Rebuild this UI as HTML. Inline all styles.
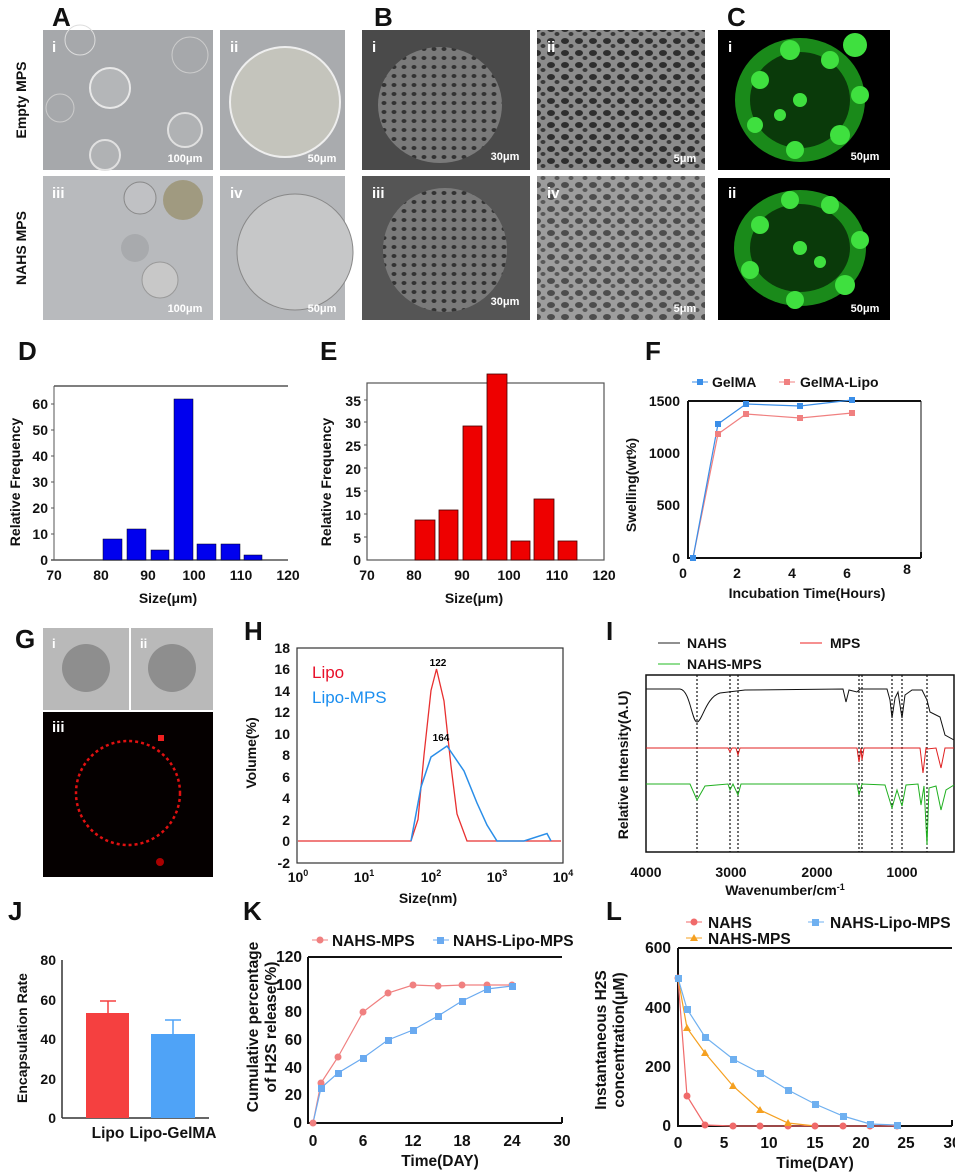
<!DOCTYPE html>
<html><head><meta charset="utf-8"><style>
html,body{margin:0;padding:0;background:#fff;}
svg{display:block;font-family:"Liberation Sans",Arial,sans-serif;}
.t{font-size:14px;font-weight:bold;fill:#111;}
.b{font-size:15.5px;font-weight:bold;fill:#111;}
.L{font-size:26px;font-weight:bold;fill:#111;}
.w{font-size:15px;font-weight:bold;fill:#fff;}
.s{font-size:11px;font-weight:bold;fill:#fff;}
</style></head><body>
<svg width="955" height="1176" viewBox="0 0 955 1176" xmlns="http://www.w3.org/2000/svg">
<defs>
<pattern id="pores" width="14" height="12" patternUnits="userSpaceOnUse"><rect width="14" height="12" fill="#8c8c8c"/><ellipse cx="5" cy="5" rx="4" ry="3" fill="#2e2e2e"/><ellipse cx="11" cy="10" rx="2.5" ry="2" fill="#3a3a3a"/></pattern>
<pattern id="pores2" width="10" height="9" patternUnits="userSpaceOnUse"><rect width="10" height="9" fill="#7a7a7a"/><ellipse cx="4" cy="4" rx="2.5" ry="2" fill="#333"/></pattern>
</defs>

<text class="L" x="52" y="26">A</text>
<text class="L" x="374" y="26">B</text>
<text class="L" x="727" y="26">C</text>

<text class="t" transform="translate(26,100) rotate(-90)" text-anchor="middle">Empty MPS</text>
<text class="t" transform="translate(26,248) rotate(-90)" text-anchor="middle">NAHS MPS</text>
<rect x="43" y="30" width="170" height="140" fill="#a6a8ab"/>
<circle cx="110" cy="88" r="20" fill="#b4b6b8" stroke="#e8e8e8" stroke-width="2"/>
<circle cx="185" cy="130" r="17" fill="#b0b2b4" stroke="#e0e0e0" stroke-width="2"/>
<circle cx="105" cy="155" r="15" fill="#b0b2b4" stroke="#e0e0e0" stroke-width="2"/>
<circle cx="80" cy="40" r="15" fill="none" stroke="#ddd" stroke-width="1"/>
<circle cx="60" cy="108" r="14" fill="none" stroke="#ccc" stroke-width="1"/>
<circle cx="190" cy="55" r="18" fill="none" stroke="#ccc" stroke-width="1"/>
<text class="s" x="185" y="162" text-anchor="middle">100μm</text>
<text class="w" x="52" y="52">i</text>
<rect x="220" y="30" width="125" height="140" fill="#a9abae"/>
<circle cx="285" cy="102" r="55" fill="#c4c4bc" stroke="#eee" stroke-width="2"/>
<text class="s" x="322" y="162" text-anchor="middle">50μm</text>
<text class="w" x="230" y="52">ii</text>
<rect x="43" y="176" width="170" height="144" fill="#b8babd"/>
<circle cx="183" cy="200" r="20" fill="#a09a80"/>
<circle cx="140" cy="198" r="16" fill="#c0c1c4" stroke="#888"/>
<circle cx="135" cy="248" r="14" fill="#a8aaad"/>
<circle cx="160" cy="280" r="18" fill="#c8c8c8" stroke="#999"/>
<text class="s" x="185" y="312" text-anchor="middle">100μm</text>
<text class="w" x="52" y="198">iii</text>
<rect x="220" y="176" width="125" height="144" fill="#b5b7ba"/>
<circle cx="295" cy="252" r="58" fill="#c6c7c8" stroke="#888"/>
<text class="s" x="322" y="312" text-anchor="middle">50μm</text>
<text class="w" x="230" y="198">iv</text>

<rect x="362" y="30" width="168" height="140" fill="#4a4a4a"/>
<ellipse cx="440" cy="105" rx="62" ry="58" fill="url(#pores2)"/>
<text class="s" x="505" y="160" text-anchor="middle">30μm</text>
<text class="w" x="372" y="52">i</text>
<rect x="537" y="30" width="168" height="140" fill="url(#pores)"/>
<text class="s" x="685" y="162" text-anchor="middle">5μm</text>
<text class="w" x="547" y="52">ii</text>
<rect x="362" y="176" width="168" height="144" fill="#555"/>
<circle cx="445" cy="250" r="62" fill="url(#pores2)"/>
<text class="s" x="505" y="305" text-anchor="middle">30μm</text>
<text class="w" x="372" y="198">iii</text>
<rect x="537" y="176" width="168" height="144" fill="url(#pores)" opacity="0.85"/>
<text class="s" x="685" y="312" text-anchor="middle">5μm</text>
<text class="w" x="547" y="198">iv</text>

<rect x="718" y="30" width="172" height="140" fill="#000"/>
<ellipse cx="800" cy="100" rx="65" ry="62" fill="#1a8a1a"/>
<ellipse cx="800" cy="100" rx="50" ry="48" fill="#0a3a0a"/>
<g fill="#3fe03f"><circle cx="760" cy="80" r="9"/><circle cx="790" cy="50" r="10"/><circle cx="830" cy="60" r="9"/><circle cx="855" cy="45" r="12"/><circle cx="860" cy="95" r="9"/><circle cx="840" cy="135" r="10"/><circle cx="795" cy="150" r="9"/><circle cx="755" cy="125" r="8"/><circle cx="800" cy="100" r="7"/><circle cx="780" cy="115" r="6"/></g>
<text class="s" x="865" y="160" text-anchor="middle">50μm</text>
<text class="w" x="728" y="52">i</text>
<rect x="718" y="178" width="172" height="142" fill="#000"/>
<ellipse cx="800" cy="248" rx="66" ry="58" fill="#1a8a1a"/>
<ellipse cx="800" cy="248" rx="50" ry="44" fill="#0a3a0a"/>
<g fill="#3fe03f"><circle cx="760" cy="225" r="9"/><circle cx="790" cy="200" r="9"/><circle cx="830" cy="205" r="9"/><circle cx="860" cy="240" r="9"/><circle cx="845" cy="285" r="10"/><circle cx="795" cy="300" r="9"/><circle cx="750" cy="270" r="9"/><circle cx="800" cy="248" r="7"/><circle cx="820" cy="262" r="6"/></g>
<text class="s" x="865" y="312" text-anchor="middle">50μm</text>
<text class="w" x="728" y="198">ii</text>

<!-- D -->
<text class="L" x="18" y="360">D</text>
<line x1="54" y1="386" x2="288" y2="386" stroke="#555" stroke-width="1.5"/>
<line x1="54" y1="386" x2="54" y2="560" stroke="#555"/>
<line x1="51" y1="560" x2="288" y2="560" stroke="#555" stroke-width="1.5"/>
<g stroke="#555"><line x1="51" y1="534" x2="54" y2="534"/><line x1="51" y1="508" x2="54" y2="508"/><line x1="51" y1="482" x2="54" y2="482"/><line x1="51" y1="456" x2="54" y2="456"/><line x1="51" y1="430" x2="54" y2="430"/><line x1="51" y1="404" x2="54" y2="404"/></g>
<g fill="#0000ee" stroke="#001" stroke-width="0.5">
<rect x="103" y="539" width="19" height="21"/><rect x="127" y="529" width="19" height="31"/><rect x="151" y="550" width="18" height="10"/><rect x="174" y="399" width="19" height="161"/><rect x="197" y="544" width="19" height="16"/><rect x="221" y="544" width="19" height="16"/><rect x="244" y="555" width="18" height="5"/></g>
<g class="t" text-anchor="end"><text x="48" y="565">0</text><text x="48" y="539">10</text><text x="48" y="513">20</text><text x="48" y="487">30</text><text x="48" y="461">40</text><text x="48" y="435">50</text><text x="48" y="409">60</text></g>
<g class="t" text-anchor="middle"><text x="54" y="580">70</text><text x="101" y="580">80</text><text x="148" y="580">90</text><text x="194" y="580">100</text><text x="241" y="580">110</text><text x="288" y="580">120</text></g>
<text class="t" x="168" y="603" text-anchor="middle">Size(μm)</text>
<text class="t" transform="translate(20,482) rotate(-90)" text-anchor="middle">Relative Frequency</text>

<!-- E -->
<text class="L" x="320" y="360">E</text>
<rect x="367" y="383" width="237" height="177" fill="none" stroke="#555" stroke-width="1.2"/>
<g stroke="#555"><line x1="364" y1="537" x2="367" y2="537"/><line x1="364" y1="514" x2="367" y2="514"/><line x1="364" y1="491" x2="367" y2="491"/><line x1="364" y1="468" x2="367" y2="468"/><line x1="364" y1="445" x2="367" y2="445"/><line x1="364" y1="422" x2="367" y2="422"/><line x1="364" y1="400" x2="367" y2="400"/></g>
<g fill="#ee0000" stroke="#400" stroke-width="0.8">
<rect x="415" y="520" width="20" height="40"/><rect x="439" y="510" width="19" height="50"/><rect x="463" y="426" width="19" height="134"/><rect x="487" y="374" width="20" height="186"/><rect x="511" y="541" width="19" height="19"/><rect x="534" y="499" width="20" height="61"/><rect x="558" y="541" width="19" height="19"/></g>
<g class="t" text-anchor="end"><text x="361" y="565">0</text><text x="361" y="543">5</text><text x="361" y="520">10</text><text x="361" y="497">15</text><text x="361" y="474">20</text><text x="361" y="451">25</text><text x="361" y="428">30</text><text x="361" y="406">35</text></g>
<g class="t" text-anchor="middle"><text x="367" y="580">70</text><text x="414" y="580">80</text><text x="462" y="580">90</text><text x="509" y="580">100</text><text x="557" y="580">110</text><text x="604" y="580">120</text></g>
<text class="t" x="474" y="603" text-anchor="middle">Size(μm)</text>
<text class="t" transform="translate(331,482) rotate(-90)" text-anchor="middle">Relative Frequency</text>

<!-- F -->
<text class="L" x="645" y="360">F</text>
<path d="M688,401 L921,401 M688,401 L688,558 L921,558 M921,552 L921,558" stroke="#111" stroke-width="2" fill="none"/>
<line x1="921" y1="401" x2="921" y2="558" stroke="#111" stroke-width="1"/>
<polyline points="693,558 718,434 746,414 800,418 852,413" fill="none" stroke="#f08080" stroke-width="1.2"/>
<polyline points="693,558 718,424 746,404 800,406 852,400" fill="none" stroke="#3a8ee8" stroke-width="1.2"/>
<g fill="#f08080"><rect x="690" y="555" width="6" height="6"/><rect x="715" y="431" width="6" height="6"/><rect x="743" y="411" width="6" height="6"/><rect x="797" y="415" width="6" height="6"/><rect x="849" y="410" width="6" height="6"/></g>
<g fill="#3a8ee8"><rect x="690" y="555" width="6" height="6"/><rect x="715" y="421" width="6" height="6"/><rect x="743" y="401" width="6" height="6"/><rect x="797" y="403" width="6" height="6"/><rect x="849" y="397" width="6" height="6"/></g>
<line x1="692" y1="382" x2="708" y2="382" stroke="#3a8ee8"/><rect x="697" y="379" width="6" height="6" fill="#3a8ee8"/>
<text class="t" x="712" y="387">GelMA</text>
<line x1="779" y1="382" x2="795" y2="382" stroke="#f08080"/><rect x="784" y="379" width="6" height="6" fill="#f08080"/>
<text class="t" x="800" y="387">GelMA-Lipo</text>
<g class="t" text-anchor="end"><text x="680" y="563">0</text><text x="680" y="510">500</text><text x="680" y="458">1000</text><text x="680" y="406">1500</text></g>
<g class="t" text-anchor="middle"><text x="683" y="578">0</text><text x="737" y="578">2</text><text x="792" y="578">4</text><text x="847" y="578">6</text><text x="907" y="574">8</text></g>
<text class="t" x="807" y="598" text-anchor="middle">Incubation Time(Hours)</text>
<text class="t" transform="translate(636,485) rotate(-90)" text-anchor="middle">Swelling(wt%)</text>

<!-- G -->
<text class="L" x="15" y="648">G</text>
<rect x="43" y="628" width="86" height="82" fill="#b9b9b9"/>
<circle cx="86" cy="668" r="24" fill="#8e8e8e"/>
<text class="w" x="52" y="648" style="font-size:13px">i</text>
<rect x="131" y="628" width="82" height="82" fill="#b9b9b9"/>
<circle cx="172" cy="668" r="24" fill="#8e8e8e"/>
<text class="w" x="140" y="648" style="font-size:13px">ii</text>
<rect x="43" y="712" width="170" height="165" fill="#050000"/>
<circle cx="128" cy="793" r="52" fill="none" stroke="#e01010" stroke-width="2.5" stroke-dasharray="3 3"/>
<rect x="158" y="735" width="6" height="6" fill="#f02020"/>
<circle cx="160" cy="862" r="4" fill="#a00"/>
<text class="w" x="52" y="732">iii</text>

<!-- H -->
<text class="L" x="244" y="640">H</text>
<rect x="297" y="648" width="266" height="215" fill="none" stroke="#333" stroke-width="1.2"/>
<polyline points="298,841 411,841 418,819.5 424,755 431,690.5 436.5,669 444,701 451,766 457,814 467,841 561,841" fill="none" stroke="#e83030" stroke-width="1.3"/>
<polyline points="411,841 421,787 431,757 447,746 464,771 477,803 487,825 497,841 524,841 547,833.5 551,841" fill="none" stroke="#2a8ee8" stroke-width="1.5"/>
<text x="312" y="678" style="font-size:17px;fill:#e8102a">Lipo</text>
<text x="312" y="703" style="font-size:17px;fill:#1a8ef0">Lipo-MPS</text>
<text x="438" y="666" text-anchor="middle" style="font-size:10px;font-weight:bold">122</text>
<text x="441" y="741" text-anchor="middle" style="font-size:10px;font-weight:bold">164</text>
<g class="t" text-anchor="end"><text x="290" y="653">18</text><text x="290" y="674">16</text><text x="290" y="696">14</text><text x="290" y="717">12</text><text x="290" y="739">10</text><text x="290" y="760">8</text><text x="290" y="782">6</text><text x="290" y="803">4</text><text x="290" y="825">2</text><text x="290" y="846">0</text><text x="290" y="868">-2</text></g>
<g class="t" text-anchor="middle"><text x="298" y="882">10<tspan dy="-6" style="font-size:9px">0</tspan></text><text x="364" y="882">10<tspan dy="-6" style="font-size:9px">1</tspan></text><text x="431" y="882">10<tspan dy="-6" style="font-size:9px">2</tspan></text><text x="497" y="882">10<tspan dy="-6" style="font-size:9px">3</tspan></text><text x="563" y="882">10<tspan dy="-6" style="font-size:9px">4</tspan></text></g>
<text class="t" x="428" y="903" text-anchor="middle">Size(nm)</text>
<text class="t" transform="translate(256,753) rotate(-90)" text-anchor="middle">Volume(%)</text>

<!-- I -->
<text class="L" x="606" y="640">I</text>
<line x1="658" y1="643" x2="680" y2="643" stroke="#222"/><text class="t" x="687" y="648">NAHS</text>
<line x1="800" y1="643" x2="822" y2="643" stroke="#e22"/><text class="t" x="830" y="648">MPS</text>
<line x1="658" y1="664" x2="680" y2="664" stroke="#2b2"/><text class="t" x="687" y="669">NAHS-MPS</text>
<rect x="646" y="675" width="308" height="177" fill="none" stroke="#111" stroke-width="1.5"/>
<g stroke="#111" stroke-width="1.2" stroke-dasharray="2 2"><line x1="697" y1="675" x2="697" y2="852"/><line x1="730" y1="675" x2="730" y2="852"/><line x1="738" y1="675" x2="738" y2="852"/><line x1="859" y1="675" x2="859" y2="852"/><line x1="862" y1="675" x2="862" y2="852"/><line x1="892" y1="675" x2="892" y2="852"/><line x1="902" y1="675" x2="902" y2="852"/><line x1="927" y1="675" x2="927" y2="852"/></g>
<path d="M646,689 L680,689 C690,690 692,722 697,722 C702,722 706,697 720,693 L745,690 L843,689 L846,702 L849,690 L857,692 L860,689 L887,689 L890,700 L892,718 L895,698 L898,692 L902,718 L905,695 L912,690 L922,690 L927,700 L930,712 L940,717 L945,735 L954,740" fill="none" stroke="#111" stroke-width="1"/>
<path d="M646,748 L728,748 L730,752 L732,748 L736,748 L738,755 L740,748 L857,748 L859,762 L861,748 L862,760 L864,748 L920,748 L923,773 L926,748 L927,749 L936,748 L941,768 L945,748 L954,748" fill="none" stroke="#e02020" stroke-width="1"/>
<path d="M646,784 L690,784 L697,800 L705,786 L728,784 L730,790 L733,784 L738,795 L741,784 L857,784 L859,795 L862,784 L885,785 L892,808 L897,790 L902,806 L906,785 L918,784 L921,805 L924,786 L927,845 L929,788 L936,786 L941,810 L946,790 L954,785" fill="none" stroke="#20b020" stroke-width="1"/>
<g class="t" text-anchor="middle"><text x="646" y="877">4000</text><text x="731" y="877">3000</text><text x="817" y="877">2000</text><text x="902" y="877">1000</text></g>
<text class="t" x="785" y="895" text-anchor="middle">Wavenumber/cm<tspan dy="-5" style="font-size:9px">-1</tspan></text>
<text class="t" transform="translate(628,765) rotate(-90)" text-anchor="middle">Relative Intensity(A.U)</text>

<!-- J -->
<text class="L" x="8" y="920">J</text>
<line x1="62" y1="960" x2="62" y2="1118" stroke="#333" stroke-width="1.5"/>
<line x1="62" y1="1118" x2="209" y2="1118" stroke="#333" stroke-width="1.5"/>
<path d="M108,1013 L108,1001 M100,1001 L116,1001" stroke="#f54040" stroke-width="1.5"/>
<path d="M173,1034 L173,1020 M165,1020 L181,1020" stroke="#4fa3f7" stroke-width="1.5"/>
<rect x="86" y="1013" width="43" height="105" fill="#f54040"/>
<rect x="151" y="1034" width="44" height="84" fill="#4fa3f7"/>
<g class="t" text-anchor="end"><text x="56" y="1123">0</text><text x="56" y="1084">20</text><text x="56" y="1044">40</text><text x="56" y="1005">60</text><text x="56" y="965">80</text></g>
<text class="b" x="108" y="1138" text-anchor="middle">Lipo</text>
<text class="b" x="173" y="1138" text-anchor="middle">Lipo-GelMA</text>
<text class="t" transform="translate(27,1038) rotate(-90)" text-anchor="middle">Encapsulation Rate</text>

<!-- K -->
<text class="L" x="243" y="920">K</text>
<path d="M308,957 L562,957 M308,957 L308,1123 L562,1123 M562,1117 L562,1123" stroke="#111" stroke-width="2" fill="none"/>
<polyline points="313,1123 321,1083 338,1057 363,1012 388,993 413,985 438,986 462,985 487,985 512,985" fill="none" stroke="#f08080" stroke-width="1.2"/>
<polyline points="313,1123 321,1088 338,1073 363,1058 388,1040 413,1030 438,1016 462,1001 487,989 512,986" fill="none" stroke="#6aaaf0" stroke-width="1.2"/>
<g fill="#f08080"><circle cx="313" cy="1123" r="3.5"/><circle cx="321" cy="1083" r="3.5"/><circle cx="338" cy="1057" r="3.5"/><circle cx="363" cy="1012" r="3.5"/><circle cx="388" cy="993" r="3.5"/><circle cx="413" cy="985" r="3.5"/><circle cx="438" cy="986" r="3.5"/><circle cx="462" cy="985" r="3.5"/><circle cx="487" cy="985" r="3.5"/><circle cx="512" cy="985" r="3.5"/></g>
<g fill="#6aaaf0"><rect x="318" y="1085" width="7" height="7"/><rect x="335" y="1070" width="7" height="7"/><rect x="360" y="1055" width="7" height="7"/><rect x="385" y="1037" width="7" height="7"/><rect x="410" y="1027" width="7" height="7"/><rect x="435" y="1013" width="7" height="7"/><rect x="459" y="998" width="7" height="7"/><rect x="484" y="986" width="7" height="7"/><rect x="509" y="983" width="7" height="7"/></g>
<line x1="312" y1="940" x2="328" y2="940" stroke="#f08080"/><circle cx="320" cy="940" r="3.5" fill="#f08080"/>
<text class="b" x="332" y="946">NAHS-MPS</text>
<line x1="433" y1="940" x2="449" y2="940" stroke="#6aaaf0"/><rect x="437" y="937" width="7" height="7" fill="#6aaaf0"/>
<text class="b" x="453" y="946">NAHS-Lipo-MPS</text>
<g class="b" text-anchor="end"><text x="302" y="1128">0</text><text x="302" y="1100">20</text><text x="302" y="1073">40</text><text x="302" y="1045">60</text><text x="302" y="1017">80</text><text x="302" y="990">100</text><text x="302" y="962">120</text></g>
<g class="b" text-anchor="middle"><text x="313" y="1146">0</text><text x="363" y="1146">6</text><text x="413" y="1146">12</text><text x="462" y="1146">18</text><text x="512" y="1146">24</text><text x="562" y="1146">30</text></g>
<text class="b" x="440" y="1166" text-anchor="middle">Time(DAY)</text>
<text class="b" transform="translate(258,1027) rotate(-90)" text-anchor="middle">Cumulative percentage</text>
<text class="b" transform="translate(276,1027) rotate(-90)" text-anchor="middle">of H2S release(%)</text>

<!-- L -->
<text class="L" x="606" y="920">L</text>
<path d="M678,948 L952,948 M678,948 L678,1126 L952,1126 M952,1120 L952,1126" stroke="#111" stroke-width="2" fill="none"/>
<polyline points="678,978 687,1096 705,1125 733,1126 897,1126" fill="none" stroke="#f06a6a" stroke-width="1.2"/>
<polyline points="678,978 687,1028 705,1053 733,1086 760,1110 788,1123 815,1126" fill="none" stroke="#f5a020" stroke-width="1.2"/>
<polyline points="678,978 687,1009 705,1037 733,1059 760,1073 788,1090 815,1104 843,1116 870,1124 897,1125" fill="none" stroke="#6fb0f0" stroke-width="1.2"/>
<g fill="#f06a6a"><circle cx="678" cy="978" r="3.5"/><circle cx="687" cy="1096" r="3.5"/><circle cx="705" cy="1125" r="3.5"/><circle cx="733" cy="1126" r="3.5"/><circle cx="760" cy="1126" r="3.5"/><circle cx="788" cy="1126" r="3.5"/><circle cx="815" cy="1126" r="3.5"/><circle cx="843" cy="1126" r="3.5"/><circle cx="870" cy="1126" r="3.5"/><circle cx="897" cy="1126" r="3.5"/></g>
<g fill="#f5a020"><path d="M687,1024 l4,7 h-8z M705,1049 l4,7 h-8z M733,1082 l4,7 h-8z M760,1106 l4,7 h-8z M788,1119 l4,7 h-8z"/></g>
<g fill="#6fb0f0"><rect x="675" y="975" width="7" height="7"/><rect x="684" y="1006" width="7" height="7"/><rect x="702" y="1034" width="7" height="7"/><rect x="730" y="1056" width="7" height="7"/><rect x="757" y="1070" width="7" height="7"/><rect x="785" y="1087" width="7" height="7"/><rect x="812" y="1101" width="7" height="7"/><rect x="840" y="1113" width="7" height="7"/><rect x="867" y="1121" width="7" height="7"/><rect x="894" y="1122" width="7" height="7"/></g>
<line x1="686" y1="922" x2="702" y2="922" stroke="#f06a6a"/><circle cx="694" cy="922" r="3.5" fill="#f06a6a"/>
<text class="b" x="708" y="928">NAHS</text>
<line x1="808" y1="922" x2="824" y2="922" stroke="#6fb0f0"/><rect x="812" y="919" width="7" height="7" fill="#6fb0f0"/>
<text class="b" x="830" y="928">NAHS-Lipo-MPS</text>
<line x1="686" y1="938" x2="702" y2="938" stroke="#f5a020"/><path d="M694,934 l4,7 h-8z" fill="#f5a020"/>
<text class="b" x="708" y="944">NAHS-MPS</text>
<g class="b" text-anchor="end"><text x="671" y="1131">0</text><text x="671" y="1072">200</text><text x="671" y="1013">400</text><text x="671" y="953">600</text></g>
<g class="b" text-anchor="middle"><text x="678" y="1148">0</text><text x="724" y="1148">5</text><text x="769" y="1148">10</text><text x="815" y="1148">15</text><text x="861" y="1148">20</text><text x="906" y="1148">25</text><text x="952" y="1148">30</text></g>
<text class="b" x="815" y="1168" text-anchor="middle">Time(DAY)</text>
<text class="b" transform="translate(606,1040) rotate(-90)" text-anchor="middle">Instantaneous H2S</text>
<text class="b" transform="translate(624,1040) rotate(-90)" text-anchor="middle">concentration(μM)</text>
</svg>
</body></html>
